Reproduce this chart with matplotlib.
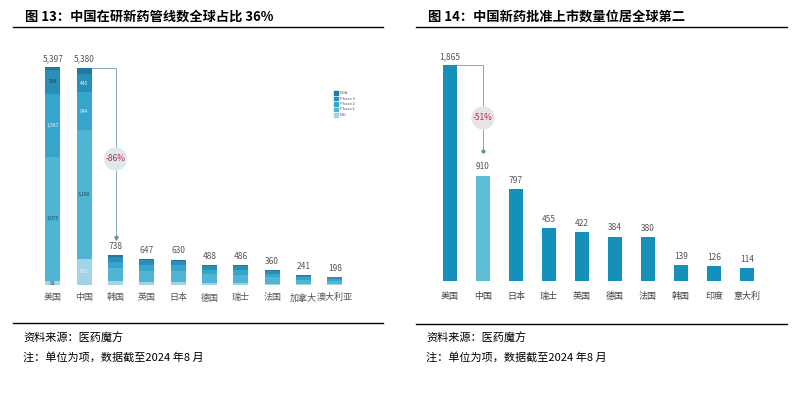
import matplotlib.pyplot as plt
import matplotlib as mpl
import numpy as np

mpl.rcParams["font.family"] = ["Noto Sans CJK SC", "DejaVu Sans"]

# ---- Data ----
# Fig 13: pipeline by stage (stacked)
countries_l = ["美国", "中国", "韩国", "英国", "日本", "德国", "瑞士", "法国", "加拿大", "澳大利亚"]
totals_l = [5397, 5380, 738, 647, 630, 488, 486, 360, 241, 198]
stages = ["NDA", "Phase 3", "Phase 2", "Phase 1", "IND"]
nda = [69, 160, 40, 30, 35, 20, 25, 15, 10, 8]
phase3 = [588, 445, 130, 120, 110, 85, 95, 65, 45, 35]
phase2 = [1567, 944, 150, 140, 135, 105, 110, 80, 55, 45]
phase1 = [3075, 3180, 330, 290, 280, 225, 210, 165, 105, 90]
ind = [98, 651, 88, 67, 70, 53, 46, 35, 26, 20]
# in-bar labels for US / China, order: NDA, Phase 3, Phase 2, Phase 1, IND
seg_labels = {0: ["", "588", "1,567", "3,075", "98"],
              1: ["", "445", "944", "3,180", "651"]}
drop_l = "-86%"

# Fig 14: approvals
countries_r = ["美国", "中国", "日本", "瑞士", "英国", "德国", "法国", "韩国", "印度", "意大利"]
approvals = [1865, 910, 797, 455, 422, 384, 380, 139, 126, 114]
drop_r = "-51%"

stage_colors = ["#23789c", "#2a8fb4", "#36a5cb", "#50b4d4", "#a3d4e5"]
bar_blue = "#1590bb"
bar_light = "#5fbdd8"
grey_txt = "#555555"

W, H = 798, 393
fig = plt.figure(figsize=(W / 100, H / 100), dpi=100)


def fx(px):
    return px / W


def fy(py):
    return 1 - py / H


def hrule(x0, x1, y, lw=1.0):
    fig.add_artist(plt.Line2D([fx(x0), fx(x1)], [fy(y), fy(y)], color="black",
                              lw=lw, transform=fig.transFigure))


# ---- Titles, rules, notes ----
fig.text(fx(25), fy(17), "图 13：中国在研新药管线数全球占比 36%", fontsize=9.5,
         fontweight="bold", va="center", ha="left")
fig.text(fx(428), fy(17), "图 14：中国新药批准上市数量位居全球第二", fontsize=9.5,
         fontweight="bold", va="center", ha="left")
hrule(13, 383, 27)
hrule(416, 787, 27)
hrule(13, 383, 323)
hrule(416, 787, 324)
for x0 in (23, 426):
    fig.text(fx(x0), fy(338), "资料来源：医药魔方", fontsize=8, style="italic",
             va="center", ha="left")
    fig.text(fx(x0), fy(357), "注：单位为项，数据截至2024 年8 月", fontsize=8,
             style="italic", va="center", ha="left")

# =============================================================
# LEFT - stacked pipeline bars
# =============================================================
ax = fig.add_axes([fx(37), fy(285), (352 - 37) / W, (285 - 35) / H])
x = np.arange(len(countries_l))
w = 0.48
stack = [ind, phase1, phase2, phase3, nda]
cols = stage_colors[::-1]
bottom = np.zeros(len(x))
seg_bottoms = []
for vals, c in zip(stack, cols):
    ax.bar(x, vals, w, bottom=bottom, color=c, edgecolor="none", zorder=3)
    seg_bottoms.append(bottom.copy())
    bottom = bottom + np.array(vals)

dark_lab = {"588", "3,075", "3,180", "98"}
for i, labs in seg_labels.items():
    for k, lab in enumerate(labs[::-1]):
        if not lab:
            continue
        v = stack[k][i]
        tc = "#1f3f50" if lab in dark_lab else "#eef7fb"
        ax.text(x[i], seg_bottoms[k][i] + v / 2, lab, fontsize=3.5, color=tc,
                ha="center", va="center", zorder=4)

for xi, t in zip(x, totals_l):
    ax.annotate(f"{t:,}", (xi, t), xytext=(0, 3), textcoords="offset points",
                ha="center", va="bottom", fontsize=6, color=grey_txt)

# bracket China -> Korea
ax.plot([x[1] + w / 2, x[2], x[2]], [totals_l[1], totals_l[1], totals_l[2] + 420],
        color="#8aa9b8", lw=0.7, zorder=2)
ax.plot([x[2]], [totals_l[2] + 420], marker="v", ms=2.5, color="#6a8fa3", zorder=2)
ax.text(x[2], totals_l[1] * 0.58, drop_l, fontsize=6, color="#b03040", ha="center",
        va="center", zorder=5,
        bbox=dict(boxstyle="circle,pad=0.2", fc="#dfe8ef", ec="none"))

# legend
for k, (s, c) in enumerate(zip(stages, stage_colors)):
    yy = 93 + k * 5.5
    fig.add_artist(plt.Rectangle((fx(334), fy(yy + 1.8)), 4 / W, 3.6 / H,
                                 color=c, transform=fig.transFigure))
    fig.text(fx(340), fy(yy), s, fontsize=3, color=grey_txt, va="center")

ax.set_xlim(-0.51, 9.55)
ax.set_ylim(0, 6189)
ax.axhline(0, color="#e2e2e2", lw=0.8, zorder=1)
ax.set_xticks(x)
ax.set_xticklabels(countries_l, fontsize=6.5, color=grey_txt)
ax.tick_params(axis="x", length=0, pad=6)
ax.set_yticks([])
for sp in ax.spines.values():
    sp.set_visible(False)
ax.patch.set_alpha(0)

# =============================================================
# RIGHT - approvals bars
# =============================================================
ax2 = fig.add_axes([fx(433), fy(281), (763 - 433) / W, (281 - 35) / H])
x2 = np.arange(len(countries_r))
w2 = 0.42
colors_r = [bar_light if c == "中国" else bar_blue for c in countries_r]
ax2.bar(x2, approvals, w2, color=colors_r, edgecolor="none", zorder=3)
for xi, v in zip(x2, approvals):
    ax2.annotate(f"{v:,}", (xi, v), xytext=(0, 3), textcoords="offset points",
                 ha="center", va="bottom", fontsize=6, color=grey_txt)

ax2.plot([x2[0] + w2 / 2, x2[1], x2[1]], [approvals[0], approvals[0], approvals[1] + 210],
         color="#8aa9b8", lw=0.7, zorder=2)
ax2.plot([x2[1]], [approvals[1] + 210], marker="o", ms=2, color="#6a8fa3", zorder=2)
ax2.text(x2[1], approvals[0] * 0.755, drop_r, fontsize=6, color="#b03040", ha="center",
         va="center", zorder=5,
         bbox=dict(boxstyle="circle,pad=0.2", fc="#ebe1e8", ec="none"))

ax2.set_xlim(-0.515, 9.485)
ax2.set_ylim(0, 2124)
ax2.axhline(0, color="#e2e2e2", lw=0.8, zorder=1)
ax2.set_xticks(x2)
ax2.set_xticklabels(countries_r, fontsize=6.5, color="#444444")
ax2.tick_params(axis="x", length=0, pad=8)
ax2.set_yticks([])
for sp in ax2.spines.values():
    sp.set_visible(False)
ax2.patch.set_alpha(0)

fig.savefig("out.png", dpi=100, facecolor="white")
